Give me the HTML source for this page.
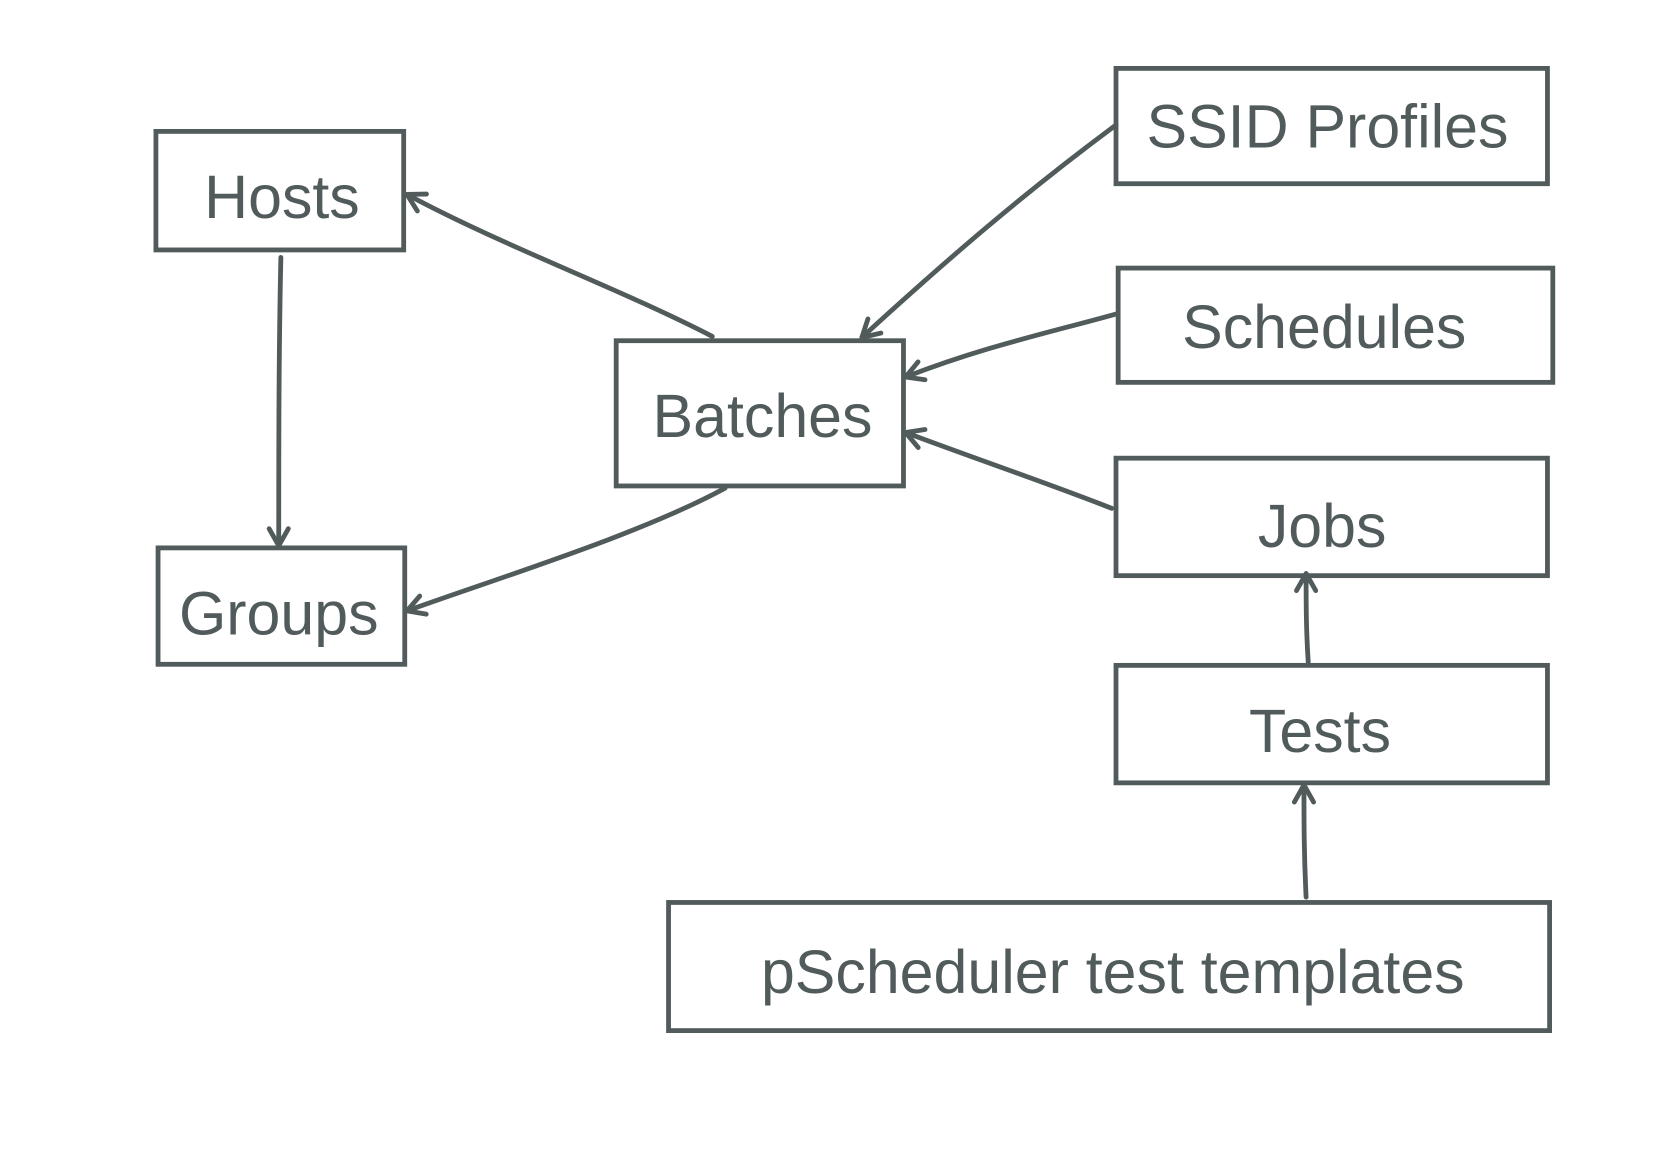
<!DOCTYPE html>
<html><head><meta charset="utf-8"><style>
html,body{margin:0;padding:0;background:#fff;}
svg{display:block;}
text{font-family:"Liberation Sans",sans-serif;fill:#525b5b;font-size:57px;text-anchor:middle;}
</style></head><body>
<svg width="1666" height="1162" viewBox="0 0 1560 1088" xmlns="http://www.w3.org/2000/svg">
<defs><marker id="a" viewBox="-2 -2 24 24" refX="18" refY="10" markerWidth="24" markerHeight="24" orient="auto" markerUnits="userSpaceOnUse" style="overflow:visible">
<path d="M2,1 L18,10 L2,19" fill="none" stroke="#525b5b" stroke-width="4.5" stroke-linecap="round" stroke-linejoin="round"/></marker></defs>
<g fill="none" stroke="#525b5b" stroke-width="4.5" stroke-linecap="round">
<rect x="146" y="123" width="232" height="111"/>
<rect x="148" y="513" width="231" height="109"/>
<rect x="577" y="319" width="269" height="136"/>
<rect x="1045" y="64" width="404" height="108"/>
<rect x="1047" y="251" width="407" height="107"/>
<rect x="1045" y="429" width="404" height="110"/>
<rect x="1045" y="623" width="404" height="110"/>
<rect x="626" y="845" width="825" height="120"/>
<g marker-end="url(#a)">
<path d="M667,315 C580,270 470,230 381,182"/>
<path d="M679,457 C600,500 470,540 381,572"/>
<path d="M263,241 C261,330 261,420 261,511"/>
<path d="M1045,117 C960,180 890,240 807,316"/>
<path d="M1045,294 C980,312 920,325 848,353"/>
<path d="M1041,476 C980,452 920,432 848,405"/>
<path d="M1225,620 C1223,590 1223,565 1223,537"/>
<path d="M1223,840 C1221,800 1221,770 1221,735"/>
</g></g>
<text x="264" y="204">Hosts</text>
<text x="261" y="594">Groups</text>
<text x="714" y="409">Batches</text>
<text x="1243" y="138">SSID Profiles</text>
<text x="1240" y="326">Schedules</text>
<text x="1238" y="512">Jobs</text>
<text x="1236" y="704">Tests</text>
<text x="1042" y="930">pScheduler test templates</text>
</svg>
</body></html>
